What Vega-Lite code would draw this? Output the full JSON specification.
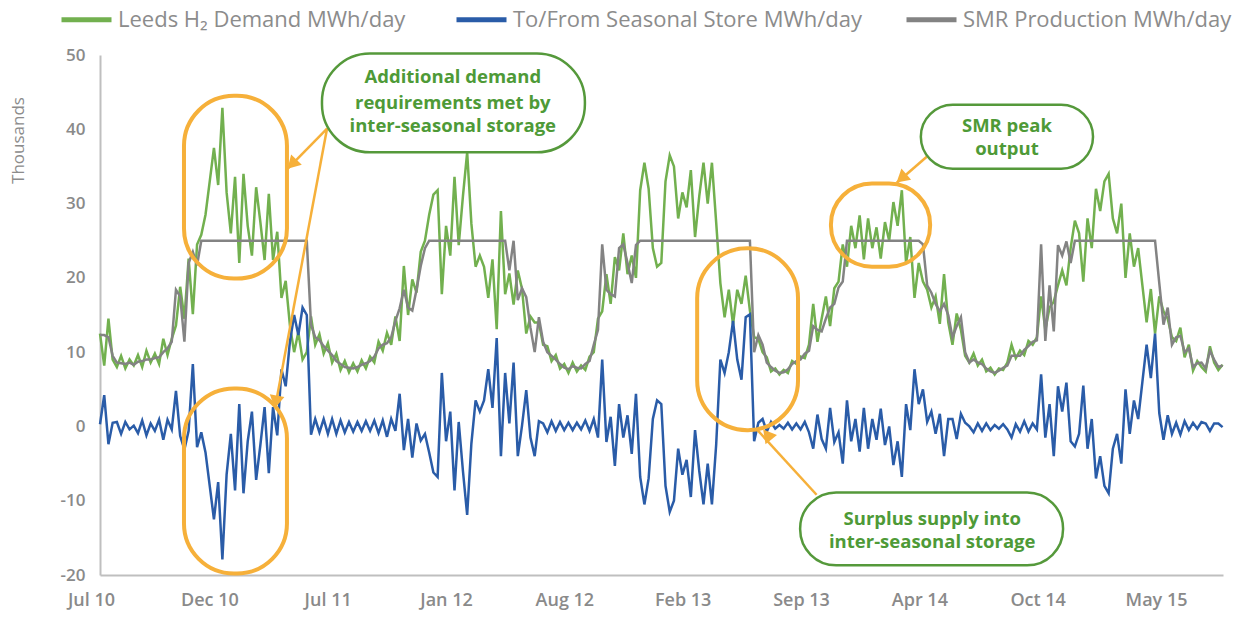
{
"$schema": "https://vega.github.io/schema/vega-lite/v6.json",
"width": 1123, "height": 520,
"autosize": {"type": "none"},
"padding": {"left": 100, "top": 55, "right": 21, "bottom": 42},
"background": "white",
"config": {"view": {"stroke": null}, "font": "Open Sans"},
"datasets": {
"series": [
{"week":0,"demand":12.5,"store":0.3,"smr":12.3},{"week":1,"demand":8.2,"store":4.2,"smr":12.3},{"week":2,"demand":14.5,"store":-2.4,"smr":12.0},{"week":3,"demand":9.0,"store":0.5,"smr":9.5},{"week":4,"demand":8.0,"store":0.6,"smr":8.6},{"week":5,"demand":9.5,"store":-1.0,"smr":8.5},{"week":6,"demand":7.8,"store":0.6,"smr":8.4},{"week":7,"demand":9.0,"store":-0.4,"smr":8.6},{"week":8,"demand":8.2,"store":0.1,"smr":8.3},{"week":9,"demand":9.6,"store":-0.9,"smr":8.7},
{"week":10,"demand":8.0,"store":0.8,"smr":8.8},{"week":11,"demand":10.2,"store":-1.2,"smr":9.0},{"week":12,"demand":8.6,"store":0.4,"smr":9.0},{"week":13,"demand":9.8,"store":-0.6,"smr":9.2},{"week":14,"demand":8.4,"store":0.9,"smr":9.3},{"week":15,"demand":11.8,"store":-1.8,"smr":10.0},{"week":16,"demand":9.6,"store":0.9,"smr":10.5},{"week":17,"demand":11.8,"store":-0.4,"smr":11.4},{"week":18,"demand":13.6,"store":4.8,"smr":18.4},{"week":19,"demand":18.8,"store":-1.3,"smr":17.5},
{"week":20,"demand":14.5,"store":-3.1,"smr":11.4},{"week":21,"demand":22.6,"store":-0.6,"smr":22.0},{"week":22,"demand":15.1,"store":8.4,"smr":23.5},{"week":23,"demand":24.5,"store":-2.8,"smr":21.7},{"week":24,"demand":25.8,"store":-0.8,"smr":25},{"week":25,"demand":28.5,"store":-3.5,"smr":25},{"week":26,"demand":33.0,"store":-8.0,"smr":25},{"week":27,"demand":37.5,"store":-12.5,"smr":25},{"week":28,"demand":32.5,"store":-7.5,"smr":25},{"week":29,"demand":42.9,"store":-17.9,"smr":25},
{"week":30,"demand":31.5,"store":-6.5,"smr":25},{"week":31,"demand":26.0,"store":-1.0,"smr":25},{"week":32,"demand":33.6,"store":-8.6,"smr":25},{"week":33,"demand":22.0,"store":3.0,"smr":25},{"week":34,"demand":34.0,"store":-9.0,"smr":25},{"week":35,"demand":27.0,"store":-2.0,"smr":25},{"week":36,"demand":23.0,"store":2.0,"smr":25},{"week":37,"demand":32.2,"store":-7.2,"smr":25},{"week":38,"demand":27.5,"store":-2.5,"smr":25},{"week":39,"demand":22.4,"store":2.6,"smr":25},
{"week":40,"demand":31.3,"store":-6.3,"smr":25},{"week":41,"demand":22.4,"store":2.6,"smr":25},{"week":42,"demand":26.2,"store":-1.2,"smr":25},{"week":43,"demand":17.3,"store":7.7,"smr":25},{"week":44,"demand":19.6,"store":5.4,"smr":25},{"week":45,"demand":13.6,"store":11.4,"smr":25},{"week":46,"demand":10.0,"store":15.0,"smr":25},{"week":47,"demand":12.7,"store":12.3,"smr":25},{"week":48,"demand":9.0,"store":16.0,"smr":25},{"week":49,"demand":10.0,"store":15.0,"smr":25},
{"week":50,"demand":14.8,"store":-1.1,"smr":13.7},{"week":51,"demand":11.0,"store":1.0,"smr":12.0},{"week":52,"demand":12.4,"store":-0.8,"smr":11.6},{"week":53,"demand":9.8,"store":1.0,"smr":10.8},{"week":54,"demand":11.2,"store":-1.0,"smr":10.2},{"week":55,"demand":8.6,"store":1.0,"smr":9.6},{"week":56,"demand":9.8,"store":-1.0,"smr":8.8},{"week":57,"demand":7.6,"store":0.8,"smr":8.4},{"week":58,"demand":8.8,"store":-0.8,"smr":8.0},{"week":59,"demand":7.3,"store":0.6,"smr":7.9},
{"week":60,"demand":8.5,"store":-0.7,"smr":7.8},{"week":61,"demand":7.4,"store":0.6,"smr":8.0},{"week":62,"demand":8.9,"store":-0.6,"smr":8.3},{"week":63,"demand":7.8,"store":0.7,"smr":8.5},{"week":64,"demand":9.4,"store":-0.6,"smr":8.8},{"week":65,"demand":8.6,"store":0.8,"smr":9.4},{"week":66,"demand":11.4,"store":-0.9,"smr":10.5},{"week":67,"demand":10.2,"store":0.8,"smr":11.0},{"week":68,"demand":12.6,"store":-1.4,"smr":11.2},{"week":69,"demand":11.0,"store":1.0,"smr":12.0},
{"week":70,"demand":14.8,"store":-0.6,"smr":14.2},{"week":71,"demand":11.5,"store":4.4,"smr":15.9},{"week":72,"demand":21.6,"store":-3.2,"smr":18.4},{"week":73,"demand":15.0,"store":1.0,"smr":16.0},{"week":74,"demand":19.8,"store":-4.2,"smr":15.6},{"week":75,"demand":18.0,"store":0.4,"smr":18.4},{"week":76,"demand":23.5,"store":-1.9,"smr":21.6},{"week":77,"demand":25.0,"store":-1.0,"smr":24.0},{"week":78,"demand":28.5,"store":-3.5,"smr":25},{"week":79,"demand":31.2,"store":-6.2,"smr":25},
{"week":80,"demand":31.8,"store":-6.8,"smr":25},{"week":81,"demand":17.8,"store":7.2,"smr":25},{"week":82,"demand":27.0,"store":-2.0,"smr":25},{"week":83,"demand":23.0,"store":2.0,"smr":25},{"week":84,"demand":33.6,"store":-8.6,"smr":25},{"week":85,"demand":24.4,"store":0.6,"smr":25},{"week":86,"demand":31.0,"store":-6.0,"smr":25},{"week":87,"demand":36.9,"store":-11.9,"smr":25},{"week":88,"demand":27.3,"store":-2.3,"smr":25},{"week":89,"demand":21.5,"store":3.5,"smr":25},
{"week":90,"demand":23.0,"store":2.0,"smr":25},{"week":91,"demand":21.5,"store":3.5,"smr":25},{"week":92,"demand":17.3,"store":7.7,"smr":25},{"week":93,"demand":22.5,"store":2.5,"smr":25},{"week":94,"demand":13.1,"store":11.9,"smr":25},{"week":95,"demand":29.0,"store":-4.0,"smr":25},{"week":96,"demand":17.8,"store":7.2,"smr":25},{"week":97,"demand":20.6,"store":0.4,"smr":21.0},{"week":98,"demand":16.4,"store":8.6,"smr":25.0},{"week":99,"demand":21.0,"store":-4.0,"smr":17.0},
{"week":100,"demand":18.5,"store":0.1,"smr":18.6},{"week":101,"demand":12.5,"store":4.9,"smr":17.4},{"week":102,"demand":14.8,"store":-1.5,"smr":13.3},{"week":103,"demand":14.0,"store":-4.0,"smr":10.0},{"week":104,"demand":14.0,"store":0.7,"smr":14.7},{"week":105,"demand":11.0,"store":0.4,"smr":11.4},{"week":106,"demand":10.8,"store":-0.8,"smr":10.0},{"week":107,"demand":8.8,"store":0.7,"smr":9.5},{"week":108,"demand":9.6,"store":-0.6,"smr":9.0},{"week":109,"demand":7.8,"store":0.6,"smr":8.4},
{"week":110,"demand":8.4,"store":-0.5,"smr":7.9},{"week":111,"demand":7.2,"store":0.5,"smr":7.7},{"week":112,"demand":8.6,"store":-0.5,"smr":8.1},{"week":113,"demand":7.4,"store":0.5,"smr":7.9},{"week":114,"demand":8.2,"store":-0.4,"smr":7.8},{"week":115,"demand":7.6,"store":0.8,"smr":8.4},{"week":116,"demand":9.4,"store":-0.6,"smr":8.8},{"week":117,"demand":10.0,"store":1.0,"smr":11.0},{"week":118,"demand":14.5,"store":-1.5,"smr":13.0},{"week":119,"demand":15.5,"store":9.0,"smr":24.5},
{"week":120,"demand":20.5,"store":-2.1,"smr":18.4},{"week":121,"demand":16.5,"store":1.3,"smr":17.8},{"week":122,"demand":22.8,"store":-5.3,"smr":17.5},{"week":123,"demand":21.0,"store":3.0,"smr":24.0},{"week":124,"demand":26.0,"store":-1.5,"smr":24.5},{"week":125,"demand":20.5,"store":1.5,"smr":22.0},{"week":126,"demand":23.0,"store":-3.7,"smr":19.3},{"week":127,"demand":20.0,"store":4.4,"smr":24.4},{"week":128,"demand":31.8,"store":-6.8,"smr":25},{"week":129,"demand":35.5,"store":-10.5,"smr":25},
{"week":130,"demand":32.0,"store":-7.0,"smr":25},{"week":131,"demand":24.0,"store":1.0,"smr":25},{"week":132,"demand":21.5,"store":3.5,"smr":25},{"week":133,"demand":22.0,"store":3.0,"smr":25},{"week":134,"demand":33.0,"store":-8.0,"smr":25},{"week":135,"demand":36.5,"store":-11.5,"smr":25},{"week":136,"demand":35.0,"store":-10.0,"smr":25},{"week":137,"demand":28.0,"store":-3.0,"smr":25},{"week":138,"demand":31.5,"store":-6.5,"smr":25},{"week":139,"demand":29.5,"store":-4.5,"smr":25},
{"week":140,"demand":34.5,"store":-9.5,"smr":25},{"week":141,"demand":25.5,"store":-0.5,"smr":25},{"week":142,"demand":31.0,"store":-6.0,"smr":25},{"week":143,"demand":35.5,"store":-10.5,"smr":25},{"week":144,"demand":30.0,"store":-5.0,"smr":25},{"week":145,"demand":35.5,"store":-10.5,"smr":25},{"week":146,"demand":27.5,"store":-2.5,"smr":25},{"week":147,"demand":19.3,"store":9.0,"smr":25},{"week":148,"demand":14.7,"store":7.2,"smr":25},{"week":149,"demand":18.4,"store":10.0,"smr":25},
{"week":150,"demand":13.7,"store":14.2,"smr":25},{"week":151,"demand":18.4,"store":9.0,"smr":25},{"week":152,"demand":16.5,"store":6.3,"smr":25},{"week":153,"demand":20.3,"store":14.7,"smr":25},{"week":154,"demand":15.6,"store":15.1,"smr":25},{"week":155,"demand":12.0,"store":-2.0,"smr":10.0},{"week":156,"demand":11.8,"store":0.5,"smr":12.3},{"week":157,"demand":10.0,"store":1.0,"smr":11.0},{"week":158,"demand":9.3,"store":-0.7,"smr":8.6},{"week":159,"demand":7.4,"store":0.6,"smr":8.0},
{"week":160,"demand":7.8,"store":-0.3,"smr":7.5},{"week":161,"demand":7.0,"store":0.2,"smr":7.2},{"week":162,"demand":7.6,"store":-0.3,"smr":7.3},{"week":163,"demand":7.2,"store":0.5,"smr":7.7},{"week":164,"demand":8.8,"store":-0.4,"smr":8.4},{"week":165,"demand":8.4,"store":0.4,"smr":8.8},{"week":166,"demand":9.4,"store":-0.4,"smr":9.0},{"week":167,"demand":9.2,"store":0.6,"smr":9.8},{"week":168,"demand":11.0,"store":-0.8,"smr":10.2},{"week":169,"demand":16.5,"store":-3.0,"smr":13.5},
{"week":170,"demand":11.4,"store":1.6,"smr":13.0},{"week":171,"demand":14.5,"store":-1.7,"smr":12.8},{"week":172,"demand":17.5,"store":-3.0,"smr":14.5},{"week":173,"demand":13.5,"store":2.5,"smr":16.0},{"week":174,"demand":18.6,"store":-2.1,"smr":16.5},{"week":175,"demand":19.5,"store":-0.8,"smr":18.7},{"week":176,"demand":24.5,"store":-5.0,"smr":19.5},{"week":177,"demand":21.5,"store":3.5,"smr":25},{"week":178,"demand":27.0,"store":-2.0,"smr":25},{"week":179,"demand":24.0,"store":1.0,"smr":25},
{"week":180,"demand":28.4,"store":-3.4,"smr":25},{"week":181,"demand":22.5,"store":2.5,"smr":25},{"week":182,"demand":28.0,"store":-3.0,"smr":25},{"week":183,"demand":24.0,"store":1.0,"smr":25},{"week":184,"demand":26.8,"store":-1.8,"smr":25},{"week":185,"demand":22.6,"store":2.4,"smr":25},{"week":186,"demand":27.5,"store":-2.5,"smr":25},{"week":187,"demand":25.0,"store":0.0,"smr":25},{"week":188,"demand":30.2,"store":-5.2,"smr":25},{"week":189,"demand":27.0,"store":-2.0,"smr":25},
{"week":190,"demand":31.8,"store":-6.8,"smr":25},{"week":191,"demand":22.0,"store":3.0,"smr":25},{"week":192,"demand":25.5,"store":-0.5,"smr":25},{"week":193,"demand":17.3,"store":7.7,"smr":25},{"week":194,"demand":22.0,"store":3.0,"smr":25},{"week":195,"demand":19.5,"store":5.0,"smr":24.5},{"week":196,"demand":18.4,"store":0.6,"smr":19.0},{"week":197,"demand":16.0,"store":2.0,"smr":18.0},{"week":198,"demand":17.5,"store":-1.0,"smr":16.5},{"week":199,"demand":13.8,"store":1.7,"smr":15.5},
{"week":200,"demand":20.5,"store":-4.0,"smr":16.5},{"week":201,"demand":14.0,"store":1.0,"smr":15.0},{"week":202,"demand":11.0,"store":1.0,"smr":12.0},{"week":203,"demand":15.2,"store":-1.7,"smr":13.5},{"week":204,"demand":13.0,"store":1.7,"smr":14.7},{"week":205,"demand":9.5,"store":0.5,"smr":10.0},{"week":206,"demand":8.6,"store":0.0,"smr":8.6},{"week":207,"demand":9.8,"store":-0.8,"smr":9.0},{"week":208,"demand":8.2,"store":0.4,"smr":8.6},{"week":209,"demand":9.0,"store":-0.6,"smr":8.4},
{"week":210,"demand":7.4,"store":0.4,"smr":7.8},{"week":211,"demand":7.9,"store":-0.5,"smr":7.4},{"week":212,"demand":7.0,"store":0.2,"smr":7.2},{"week":213,"demand":7.8,"store":-0.3,"smr":7.5},{"week":214,"demand":7.6,"store":0.3,"smr":7.9},{"week":215,"demand":8.6,"store":-0.4,"smr":8.2},{"week":216,"demand":11.0,"store":-1.5,"smr":9.5},{"week":217,"demand":9.2,"store":0.3,"smr":9.5},{"week":218,"demand":10.2,"store":-0.7,"smr":9.5},{"week":219,"demand":9.6,"store":0.7,"smr":10.3},
{"week":220,"demand":11.5,"store":-0.7,"smr":10.8},{"week":221,"demand":11.0,"store":0.4,"smr":11.4},{"week":222,"demand":12.0,"store":-0.4,"smr":11.6},{"week":223,"demand":17.5,"store":7.0,"smr":24.5},{"week":224,"demand":13.0,"store":-1.5,"smr":11.5},{"week":225,"demand":16.0,"store":3.0,"smr":19.0},{"week":226,"demand":16.8,"store":-4.0,"smr":12.8},{"week":227,"demand":19.0,"store":5.4,"smr":24.4},{"week":228,"demand":21.0,"store":2.0,"smr":23.0},{"week":229,"demand":19.0,"store":5.9,"smr":24.9},
{"week":230,"demand":24.0,"store":-2.0,"smr":22.0},{"week":231,"demand":27.7,"store":-2.7,"smr":25},{"week":232,"demand":26.0,"store":-1.0,"smr":25},{"week":233,"demand":19.5,"store":5.5,"smr":25},{"week":234,"demand":28.0,"store":-3.0,"smr":25},{"week":235,"demand":24.0,"store":1.0,"smr":25},{"week":236,"demand":32.0,"store":-7.0,"smr":25},{"week":237,"demand":29.0,"store":-4.0,"smr":25},{"week":238,"demand":33.0,"store":-8.0,"smr":25},{"week":239,"demand":34.0,"store":-9.0,"smr":25},
{"week":240,"demand":28.0,"store":-3.0,"smr":25},{"week":241,"demand":26.0,"store":-1.0,"smr":25},{"week":242,"demand":30.0,"store":-5.0,"smr":25},{"week":243,"demand":20.0,"store":5.0,"smr":25},{"week":244,"demand":26.0,"store":-1.0,"smr":25},{"week":245,"demand":21.5,"store":3.5,"smr":25},{"week":246,"demand":24.0,"store":1.0,"smr":25},{"week":247,"demand":19.0,"store":6.0,"smr":25},{"week":248,"demand":14.0,"store":11.0,"smr":25},{"week":249,"demand":18.5,"store":6.5,"smr":25},
{"week":250,"demand":12.5,"store":12.5,"smr":25},{"week":251,"demand":17.5,"store":1.8,"smr":19.3},{"week":252,"demand":15.5,"store":-1.8,"smr":13.7},{"week":253,"demand":14.5,"store":1.5,"smr":16.0},{"week":254,"demand":12.0,"store":-1.0,"smr":11.0},{"week":255,"demand":11.5,"store":0.5,"smr":12.0},{"week":256,"demand":13.3,"store":-1.1,"smr":12.2},{"week":257,"demand":9.3,"store":0.7,"smr":10.0},{"week":258,"demand":11.0,"store":-0.5,"smr":10.5},{"week":259,"demand":7.5,"store":0.5,"smr":8.0},
{"week":260,"demand":8.8,"store":-0.3,"smr":8.5},{"week":261,"demand":8.0,"store":0.6,"smr":8.6},{"week":262,"demand":7.4,"store":0.4,"smr":7.8},{"week":263,"demand":10.8,"store":-0.6,"smr":10.2},{"week":264,"demand":8.6,"store":0.4,"smr":9.0},{"week":265,"demand":7.6,"store":0.4,"smr":8.0},{"week":266,"demand":8.3,"store":-0.1,"smr":8.2}
],
"rings": [{"x1":19.9,"x2":44.3,"y1":44.5,"y2":19.9},{"x1":19.9,"x2":44.3,"y1":5.1,"y2":-19.8},{"x1":141.5,"x2":165.4,"y1":24.0,"y2":-0.5}],
"ringPeak": [{"x1":173.2,"x2":196.7,"y1":32.7,"y2":21.5}],
"boxDemand": [{"x1":52.6,"x2":114.9,"y1":50.2,"y2":36.9}],
"boxSMR": [{"x1":194.5,"x2":235.3,"y1":43.3,"y2":34.7}],
"boxSurplus": [{"x1":165.9,"x2":228.2,"y1":-8.9,"y2":-18.7}],
"arrows": [{"x1":53.8,"y1":40.1,"x2":44.5,"y2":34.7},{"x1":53.8,"y1":40.1,"x2":41.5,"y2":2.6},{"x1":195.9,"y1":36.3,"x2":188.8,"y2":32.8},{"x1":169.8,"y1":-9.2,"x2":155.8,"y2":-0.5}],
"notes": [{"x":83.6,"y":47.0,"text":"Additional demand"},{"x":83.6,"y":43.6,"text":"requirements met by"},{"x":83.6,"y":40.4,"text":"inter-seasonal storage"},{"x":214.9,"y":40.5,"text":"SMR peak"},{"x":214.9,"y":37.3,"text":"output"},{"x":197.2,"y":-12.4,"text":"Surplus supply into"},{"x":197.2,"y":-15.6,"text":"inter-seasonal storage"}]
},
"layer": [
{"data": {"name": "series"}, "mark": {"type": "line", "strokeWidth": 2.5},
 "encoding": {
  "x": {"field": "week", "type": "quantitative", "scale": {"domain": [0, 266.1], "nice": false, "zero": false},
        "axis": {"title": null, "values": [0, 28.04, 56.08, 84.12, 112.16, 140.2, 168.24, 196.28, 224.32, 252.36],
                 "labelExpr": "['Jul 10','Dec 10','Jul 11','Jan 12','Aug 12','Feb 13','Sep 13','Apr 14','Oct 14','May 15'][round(datum.value / 28.04)]",
                 "ticks": false, "grid": false, "domainColor": "#bfbfbf", "domainWidth": 2, "labelOffset": -9, "labelPadding": 16,
                 "labelFont": "Open Sans", "labelFontSize": 18, "labelFontWeight": 600, "labelColor": "#8a8a8a", "labelOverlap": false, "labelBound": false, "labelFlush": false}},
  "y": {"field": "demand", "type": "quantitative", "scale": {"domain": [-20, 50], "nice": false, "zero": false},
        "axis": {"title": "Thousands", "values": [-20, -10, 0, 10, 20, 30, 40, 50], "ticks": false, "grid": false, "domainColor": "#bfbfbf", "domainWidth": 2,
                 "labelExpr": "datum.value < 0 ? '-' + abs(datum.value) : '' + datum.value",
                 "labelPadding": 15, "labelFont": "Open Sans", "labelFontSize": 17, "labelFontWeight": 600, "labelColor": "#8a8a8a",
                 "titleFont": "Open Sans", "titleFontSize": 17, "titleFontWeight": "normal", "titleColor": "#8c8c8c", "titleX": -82, "titleY": 85, "titleAlign": "center", "titleBaseline": "middle", "titleAngle": -90}},
  "color": {"datum": "Leeds H₂  Demand MWh/day", "type": "nominal",
            "scale": {"domain": ["Leeds H₂  Demand MWh/day", "To/From Seasonal Store MWh/day", "SMR Production MWh/day"], "range": ["#72b04f", "#2a5ca8", "#838383"]},
            "legend": {"orient": "none", "legendX": -41, "legendY": -63, "direction": "horizontal", "title": null, "symbolType": "stroke", "symbolSize": 2500, "symbolStrokeWidth": 5,
                       "labelFont": "Open Sans", "labelFontSize": 22, "labelColor": "#8c8c8c", "columnPadding": 34, "labelOffset": 4, "labelLimit": 600, "padding": 0}}
 }},
{"data": {"name": "series"}, "mark": {"type": "line", "strokeWidth": 2.5},
 "encoding": {
  "x": {"field": "week", "type": "quantitative"},
  "y": {"field": "store", "type": "quantitative"},
  "color": {"datum": "To/From Seasonal Store MWh/day", "type": "nominal"}
 }},
{"data": {"name": "series"}, "mark": {"type": "line", "strokeWidth": 2.5},
 "encoding": {
  "x": {"field": "week", "type": "quantitative"},
  "y": {"field": "smr", "type": "quantitative"},
  "color": {"datum": "SMR Production MWh/day", "type": "nominal"}
 }},
{"data": {"name": "rings"}, "mark": {"type": "rect", "filled": false, "stroke": "#f6b03a", "strokeWidth": 4, "cornerRadius": 50},
 "encoding": {"x": {"field": "x1", "type": "quantitative"}, "x2": {"field": "x2"}, "y": {"field": "y1", "type": "quantitative"}, "y2": {"field": "y2"}}},
{"data": {"name": "ringPeak"}, "mark": {"type": "rect", "filled": false, "stroke": "#f6b03a", "strokeWidth": 4, "cornerRadius": 41},
 "encoding": {"x": {"field": "x1", "type": "quantitative"}, "x2": {"field": "x2"}, "y": {"field": "y1", "type": "quantitative"}, "y2": {"field": "y2"}}},
{"data": {"name": "arrows"}, "mark": {"type": "rule", "stroke": "#f6b03a", "strokeWidth": 2.5},
 "encoding": {"x": {"field": "x1", "type": "quantitative"}, "x2": {"field": "x2"}, "y": {"field": "y1", "type": "quantitative"}, "y2": {"field": "y2"}}},
{"data": {"values": [{"x": 45.5, "y": 35.3}]}, "mark": {"type": "point", "shape": "triangle-up", "filled": true, "color": "#f6b03a", "opacity": 1, "size": 220, "angle": 224},
 "encoding": {"x": {"field": "x", "type": "quantitative"}, "y": {"field": "y", "type": "quantitative"}}},
{"data": {"values": [{"x": 41.7, "y": 3.3}]}, "mark": {"type": "point", "shape": "triangle-up", "filled": true, "color": "#f6b03a", "opacity": 1, "size": 220, "angle": 190},
 "encoding": {"x": {"field": "x", "type": "quantitative"}, "y": {"field": "y", "type": "quantitative"}}},
{"data": {"values": [{"x": 189.9, "y": 33.4}]}, "mark": {"type": "point", "shape": "triangle-up", "filled": true, "color": "#f6b03a", "opacity": 1, "size": 220, "angle": 229},
 "encoding": {"x": {"field": "x", "type": "quantitative"}, "y": {"field": "y", "type": "quantitative"}}},
{"data": {"values": [{"x": 158.1, "y": -1.1}]}, "mark": {"type": "point", "shape": "triangle-up", "filled": true, "color": "#f6b03a", "opacity": 1, "size": 220, "angle": 321},
 "encoding": {"x": {"field": "x", "type": "quantitative"}, "y": {"field": "y", "type": "quantitative"}}},
{"data": {"name": "boxDemand"}, "mark": {"type": "rect", "fill": "white", "stroke": "#55993b", "strokeWidth": 2.5, "cornerRadius": 48},
 "encoding": {"x": {"field": "x1", "type": "quantitative"}, "x2": {"field": "x2"}, "y": {"field": "y1", "type": "quantitative"}, "y2": {"field": "y2"}}},
{"data": {"name": "boxSMR"}, "mark": {"type": "rect", "fill": "white", "stroke": "#55993b", "strokeWidth": 2.5, "cornerRadius": 32},
 "encoding": {"x": {"field": "x1", "type": "quantitative"}, "x2": {"field": "x2"}, "y": {"field": "y1", "type": "quantitative"}, "y2": {"field": "y2"}}},
{"data": {"name": "boxSurplus"}, "mark": {"type": "rect", "fill": "white", "stroke": "#55993b", "strokeWidth": 2.5, "cornerRadius": 36},
 "encoding": {"x": {"field": "x1", "type": "quantitative"}, "x2": {"field": "x2"}, "y": {"field": "y1", "type": "quantitative"}, "y2": {"field": "y2"}}},
{"data": {"name": "notes"}, "mark": {"type": "text", "font": "Open Sans", "fontWeight": "bold", "fontSize": 18.5, "color": "#4e9a37", "align": "center", "baseline": "middle"},
 "encoding": {"x": {"field": "x", "type": "quantitative"}, "y": {"field": "y", "type": "quantitative"}, "text": {"field": "text"}}}
]
}
